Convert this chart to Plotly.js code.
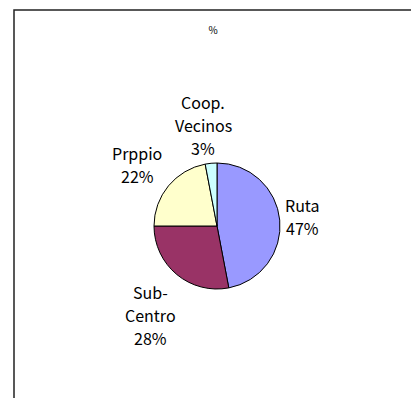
<!DOCTYPE html>
<html>
<head>
<meta charset="utf-8">
<script src="https://cdn.plot.ly/plotly-3.0.1.min.js"></script>
<style>html,body{margin:0;padding:0;background:#fff;overflow:hidden;}#chart{width:411px;height:398px;}</style>
</head>
<body>
<div id="chart"></div>
<script>
const categories = ['Ruta', 'Sub-\nCentro', 'Prppio', 'Coop.\nVecinos'];
const values = [47, 28, 22, 3];
const colors = ['#9999FF', '#993366', '#FFFFCC', '#CCFFFF'];
const chartTitle = '%';

const W = 411, H = 398;
const FONT = '"Noto Sans CJK JP", "Noto Sans", sans-serif';
const FS = 16;
const LINE = 23;
const domX = [154 / W, 280 / W];
const domY = [1 - 289 / H, 1 - 163 / H];
const R = Math.min((domX[1] - domX[0]) * W, (domY[1] - domY[0]) * H) / 2;
const cxp = (domX[0] + domX[1]) / 2, cyp = (domY[0] + domY[1]) / 2;

const ctx = document.createElement('canvas').getContext('2d');
ctx.font = FS + 'px ' + FONT;

const total = values.reduce((a, b) => a + b, 0);
const annotations = [];
let cum = 0;
const gap = 10;
const labelDX = -4;
values.forEach((v, i) => {
  const pct = Math.round(v / total * 100) + '%';
  const lines = categories[i].split('\n').concat([pct]);
  const mid = (cum + v / 2) / total * 2 * Math.PI; cum += v;
  const dx = Math.sin(mid), dy = -Math.cos(mid); // screen coords, y down
  const w = Math.max(...lines.map(l => ctx.measureText(l).width));
  const h = lines.length * LINE;
  const ax = dx * (R + gap), ay = dy * (R + gap);
  const bx = ax + dx * w / 2 + labelDX, by = ay + dy * h / 2 + (lines.length - 2) * 6.5;
  lines.forEach((l, k) => {
    const ly = by - h / 2 + LINE * (k + 0.5);
    annotations.push({
      xref: 'paper', yref: 'paper', x: cxp, y: cyp,
      xshift: bx, yshift: -ly, xanchor: 'center', yanchor: 'middle',
      text: l, showarrow: false, font: {family: FONT, size: FS, color: '#000'}
    });
  });
});

const data = [{
  type: 'pie',
  values: values,
  labels: categories.map(c => c.replace('\n', ' ')),
  marker: {colors: colors, line: {color: '#000', width: 1}},
  sort: false,
  direction: 'clockwise',
  rotation: 0,
  textinfo: 'none',
  hoverinfo: 'label+percent',
  domain: {x: domX, y: domY},
  showlegend: false
}];

const layout = {
  width: W, height: H,
  margin: {l: 0, r: 0, t: 0, b: 0},
  paper_bgcolor: '#fff',
  showlegend: false,
  title: {text: chartTitle, x: 213 / W, xanchor: 'center', y: 1 - 30 / H, yanchor: 'middle',
          font: {family: FONT, size: 10, color: '#000'}},
  annotations: annotations,
  shapes: [
    {type: 'path', xref: 'paper', yref: 'paper',
     path: 'M ' + (14 / W) + ' 0 L ' + (14 / W) + ' ' + (1 - 10 / H) + ' L 1 ' + (1 - 10 / H),
     line: {color: '#222', width: 1.5}}
  ]
};

Plotly.newPlot('chart', data, layout, {staticPlot: true});
</script>
</body>
</html>
